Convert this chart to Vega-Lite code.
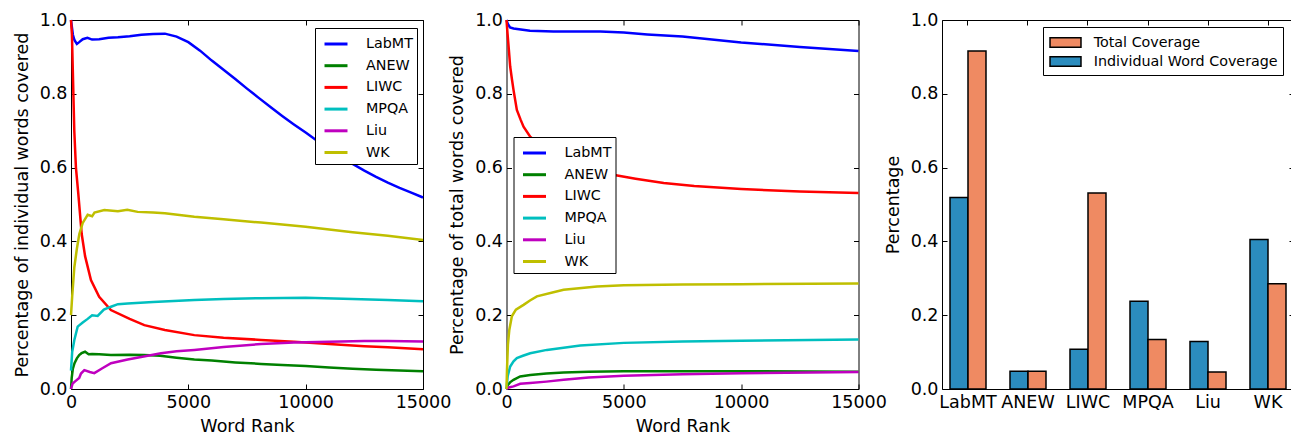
{
  "$schema": "https://vega.github.io/schema/vega-lite/v6.json",
  "padding": {"left": 12, "top": 10, "right": 0, "bottom": 0},
  "bounds": "flush",
  "spacing": 83.5,
  "config": {
    "font": "DejaVu Sans",
    "view": {"stroke": "black", "strokeWidth": 1},
    "axis": {
      "labelFont": "DejaVu Sans", "titleFont": "DejaVu Sans",
      "labelFontSize": 17.5, "titleFontSize": 17.5, "titleFontWeight": "normal",
      "labelColor": "black", "titleColor": "black",
      "grid": false, "domain": false, "tickColor": "black", "tickSize": -5, "tickWidth": 1,
      "labelPadding": 9, "labelFlush": false, "labelOverlap": false
    },
    "legend": {
      "labelFont": "DejaVu Sans", "labelFontSize": 14.3, "labelColor": "black", "labelLimit": 400,
      "strokeColor": "black", "fillColor": "white", "cornerRadius": 0, "strokeWidth": 1
    }
  },
  "resolve": {"scale": {"color": "independent"}, "legend": {"color": "independent"}},
  "datasets": {
    "individual": [
      {"rank": 0, "value": 1.0, "lexicon": "LabMT"}, {"rank": 30, "value": 0.985, "lexicon": "LabMT"}, {"rank": 80, "value": 0.96, "lexicon": "LabMT"}, {"rank": 150, "value": 0.945, "lexicon": "LabMT"}, {"rank": 250, "value": 0.935, "lexicon": "LabMT"}, {"rank": 350, "value": 0.94, "lexicon": "LabMT"}, {"rank": 500, "value": 0.948, "lexicon": "LabMT"}, {"rank": 700, "value": 0.952, "lexicon": "LabMT"}, {"rank": 900, "value": 0.947, "lexicon": "LabMT"}, {"rank": 1200, "value": 0.948, "lexicon": "LabMT"}, {"rank": 1600, "value": 0.952, "lexicon": "LabMT"}, {"rank": 2000, "value": 0.953, "lexicon": "LabMT"}, {"rank": 2500, "value": 0.956, "lexicon": "LabMT"}, {"rank": 3000, "value": 0.96, "lexicon": "LabMT"}, {"rank": 3500, "value": 0.962, "lexicon": "LabMT"}, {"rank": 4000, "value": 0.963, "lexicon": "LabMT"}, {"rank": 4500, "value": 0.955, "lexicon": "LabMT"}, {"rank": 5000, "value": 0.94, "lexicon": "LabMT"}, {"rank": 5500, "value": 0.917, "lexicon": "LabMT"}, {"rank": 6000, "value": 0.89, "lexicon": "LabMT"}, {"rank": 6500, "value": 0.865, "lexicon": "LabMT"}, {"rank": 7000, "value": 0.84, "lexicon": "LabMT"}, {"rank": 7500, "value": 0.814, "lexicon": "LabMT"}, {"rank": 8000, "value": 0.789, "lexicon": "LabMT"}, {"rank": 8500, "value": 0.764, "lexicon": "LabMT"}, {"rank": 9000, "value": 0.74, "lexicon": "LabMT"}, {"rank": 9500, "value": 0.717, "lexicon": "LabMT"}, {"rank": 10000, "value": 0.695, "lexicon": "LabMT"}, {"rank": 10500, "value": 0.672, "lexicon": "LabMT"}, {"rank": 11000, "value": 0.65, "lexicon": "LabMT"}, {"rank": 11500, "value": 0.63, "lexicon": "LabMT"}, {"rank": 12000, "value": 0.61, "lexicon": "LabMT"}, {"rank": 12500, "value": 0.592, "lexicon": "LabMT"}, {"rank": 13000, "value": 0.575, "lexicon": "LabMT"}, {"rank": 13500, "value": 0.559, "lexicon": "LabMT"}, {"rank": 14000, "value": 0.545, "lexicon": "LabMT"}, {"rank": 14500, "value": 0.532, "lexicon": "LabMT"}, {"rank": 15000, "value": 0.519, "lexicon": "LabMT"},
      {"rank": 0, "value": 0.0, "lexicon": "ANEW"}, {"rank": 30, "value": 0.03, "lexicon": "ANEW"}, {"rank": 80, "value": 0.055, "lexicon": "ANEW"}, {"rank": 150, "value": 0.07, "lexicon": "ANEW"}, {"rank": 250, "value": 0.083, "lexicon": "ANEW"}, {"rank": 350, "value": 0.092, "lexicon": "ANEW"}, {"rank": 450, "value": 0.097, "lexicon": "ANEW"}, {"rank": 600, "value": 0.101, "lexicon": "ANEW"}, {"rank": 750, "value": 0.094, "lexicon": "ANEW"}, {"rank": 900, "value": 0.095, "lexicon": "ANEW"}, {"rank": 1200, "value": 0.094, "lexicon": "ANEW"}, {"rank": 1700, "value": 0.092, "lexicon": "ANEW"}, {"rank": 2500, "value": 0.093, "lexicon": "ANEW"}, {"rank": 3100, "value": 0.092, "lexicon": "ANEW"}, {"rank": 3800, "value": 0.09, "lexicon": "ANEW"}, {"rank": 4500, "value": 0.085, "lexicon": "ANEW"}, {"rank": 5255, "value": 0.08, "lexicon": "ANEW"}, {"rank": 6000, "value": 0.077, "lexicon": "ANEW"}, {"rank": 7000, "value": 0.072, "lexicon": "ANEW"}, {"rank": 8100, "value": 0.068, "lexicon": "ANEW"}, {"rank": 9000, "value": 0.065, "lexicon": "ANEW"}, {"rank": 10000, "value": 0.062, "lexicon": "ANEW"}, {"rank": 11000, "value": 0.058, "lexicon": "ANEW"}, {"rank": 12000, "value": 0.055, "lexicon": "ANEW"}, {"rank": 13000, "value": 0.052, "lexicon": "ANEW"}, {"rank": 14000, "value": 0.05, "lexicon": "ANEW"}, {"rank": 15000, "value": 0.048, "lexicon": "ANEW"},
      {"rank": 0, "value": 1.0, "lexicon": "LIWC"}, {"rank": 40, "value": 0.96, "lexicon": "LIWC"}, {"rank": 90, "value": 0.83, "lexicon": "LIWC"}, {"rank": 140, "value": 0.7, "lexicon": "LIWC"}, {"rank": 210, "value": 0.6, "lexicon": "LIWC"}, {"rank": 310, "value": 0.53, "lexicon": "LIWC"}, {"rank": 456, "value": 0.42, "lexicon": "LIWC"}, {"rank": 600, "value": 0.36, "lexicon": "LIWC"}, {"rank": 850, "value": 0.295, "lexicon": "LIWC"}, {"rank": 1200, "value": 0.25, "lexicon": "LIWC"}, {"rank": 1700, "value": 0.214, "lexicon": "LIWC"}, {"rank": 2500, "value": 0.19, "lexicon": "LIWC"}, {"rank": 3125, "value": 0.173, "lexicon": "LIWC"}, {"rank": 4000, "value": 0.16, "lexicon": "LIWC"}, {"rank": 5255, "value": 0.146, "lexicon": "LIWC"}, {"rank": 6500, "value": 0.139, "lexicon": "LIWC"}, {"rank": 8100, "value": 0.133, "lexicon": "LIWC"}, {"rank": 9500, "value": 0.128, "lexicon": "LIWC"}, {"rank": 11000, "value": 0.122, "lexicon": "LIWC"}, {"rank": 12500, "value": 0.116, "lexicon": "LIWC"}, {"rank": 13500, "value": 0.113, "lexicon": "LIWC"}, {"rank": 15000, "value": 0.108, "lexicon": "LIWC"},
      {"rank": 0, "value": 0.05, "lexicon": "MPQA"}, {"rank": 50, "value": 0.1, "lexicon": "MPQA"}, {"rank": 142, "value": 0.133, "lexicon": "MPQA"}, {"rank": 284, "value": 0.169, "lexicon": "MPQA"}, {"rank": 500, "value": 0.18, "lexicon": "MPQA"}, {"rank": 710, "value": 0.19, "lexicon": "MPQA"}, {"rank": 900, "value": 0.2, "lexicon": "MPQA"}, {"rank": 1136, "value": 0.198, "lexicon": "MPQA"}, {"rank": 1400, "value": 0.215, "lexicon": "MPQA"}, {"rank": 1705, "value": 0.223, "lexicon": "MPQA"}, {"rank": 2000, "value": 0.23, "lexicon": "MPQA"}, {"rank": 2415, "value": 0.232, "lexicon": "MPQA"}, {"rank": 3500, "value": 0.236, "lexicon": "MPQA"}, {"rank": 5255, "value": 0.241, "lexicon": "MPQA"}, {"rank": 6500, "value": 0.244, "lexicon": "MPQA"}, {"rank": 8100, "value": 0.246, "lexicon": "MPQA"}, {"rank": 10000, "value": 0.247, "lexicon": "MPQA"}, {"rank": 12000, "value": 0.244, "lexicon": "MPQA"}, {"rank": 13500, "value": 0.241, "lexicon": "MPQA"}, {"rank": 15000, "value": 0.238, "lexicon": "MPQA"},
      {"rank": 0, "value": 0.0, "lexicon": "Liu"}, {"rank": 71, "value": 0.015, "lexicon": "Liu"}, {"rank": 200, "value": 0.022, "lexicon": "Liu"}, {"rank": 350, "value": 0.03, "lexicon": "Liu"}, {"rank": 426, "value": 0.042, "lexicon": "Liu"}, {"rank": 568, "value": 0.051, "lexicon": "Liu"}, {"rank": 800, "value": 0.046, "lexicon": "Liu"}, {"rank": 994, "value": 0.043, "lexicon": "Liu"}, {"rank": 1300, "value": 0.055, "lexicon": "Liu"}, {"rank": 1705, "value": 0.07, "lexicon": "Liu"}, {"rank": 2415, "value": 0.08, "lexicon": "Liu"}, {"rank": 3100, "value": 0.088, "lexicon": "Liu"}, {"rank": 3835, "value": 0.097, "lexicon": "Liu"}, {"rank": 4500, "value": 0.102, "lexicon": "Liu"}, {"rank": 5255, "value": 0.106, "lexicon": "Liu"}, {"rank": 6500, "value": 0.114, "lexicon": "Liu"}, {"rank": 8100, "value": 0.122, "lexicon": "Liu"}, {"rank": 9500, "value": 0.126, "lexicon": "Liu"}, {"rank": 11000, "value": 0.128, "lexicon": "Liu"}, {"rank": 12500, "value": 0.13, "lexicon": "Liu"}, {"rank": 13500, "value": 0.13, "lexicon": "Liu"}, {"rank": 15000, "value": 0.129, "lexicon": "Liu"},
      {"rank": 0, "value": 0.2, "lexicon": "WK"}, {"rank": 50, "value": 0.25, "lexicon": "WK"}, {"rank": 142, "value": 0.33, "lexicon": "WK"}, {"rank": 250, "value": 0.38, "lexicon": "WK"}, {"rank": 355, "value": 0.42, "lexicon": "WK"}, {"rank": 500, "value": 0.45, "lexicon": "WK"}, {"rank": 710, "value": 0.472, "lexicon": "WK"}, {"rank": 900, "value": 0.468, "lexicon": "WK"}, {"rank": 1000, "value": 0.478, "lexicon": "WK"}, {"rank": 1420, "value": 0.485, "lexicon": "WK"}, {"rank": 2000, "value": 0.482, "lexicon": "WK"}, {"rank": 2400, "value": 0.486, "lexicon": "WK"}, {"rank": 2840, "value": 0.48, "lexicon": "WK"}, {"rank": 3500, "value": 0.478, "lexicon": "WK"}, {"rank": 4000, "value": 0.476, "lexicon": "WK"}, {"rank": 5255, "value": 0.467, "lexicon": "WK"}, {"rank": 6500, "value": 0.46, "lexicon": "WK"}, {"rank": 8100, "value": 0.451, "lexicon": "WK"}, {"rank": 9000, "value": 0.446, "lexicon": "WK"}, {"rank": 10000, "value": 0.44, "lexicon": "WK"}, {"rank": 11000, "value": 0.432, "lexicon": "WK"}, {"rank": 12000, "value": 0.425, "lexicon": "WK"}, {"rank": 13500, "value": 0.415, "lexicon": "WK"}, {"rank": 15000, "value": 0.404, "lexicon": "WK"}
    ],
    "total": [
      {"rank": 0, "value": 1.0, "lexicon": "LabMT"}, {"rank": 50, "value": 0.99, "lexicon": "LabMT"}, {"rank": 150, "value": 0.98, "lexicon": "LabMT"}, {"rank": 300, "value": 0.977, "lexicon": "LabMT"}, {"rank": 1000, "value": 0.971, "lexicon": "LabMT"}, {"rank": 2000, "value": 0.969, "lexicon": "LabMT"}, {"rank": 4000, "value": 0.969, "lexicon": "LabMT"}, {"rank": 5000, "value": 0.966, "lexicon": "LabMT"}, {"rank": 6000, "value": 0.961, "lexicon": "LabMT"}, {"rank": 7500, "value": 0.955, "lexicon": "LabMT"}, {"rank": 8750, "value": 0.947, "lexicon": "LabMT"}, {"rank": 10000, "value": 0.939, "lexicon": "LabMT"}, {"rank": 12500, "value": 0.927, "lexicon": "LabMT"}, {"rank": 15000, "value": 0.916, "lexicon": "LabMT"},
      {"rank": 0, "value": 0.0, "lexicon": "ANEW"}, {"rank": 50, "value": 0.01, "lexicon": "ANEW"}, {"rank": 150, "value": 0.018, "lexicon": "ANEW"}, {"rank": 300, "value": 0.025, "lexicon": "ANEW"}, {"rank": 583, "value": 0.034, "lexicon": "ANEW"}, {"rank": 1010, "value": 0.038, "lexicon": "ANEW"}, {"rank": 1700, "value": 0.042, "lexicon": "ANEW"}, {"rank": 2434, "value": 0.045, "lexicon": "ANEW"}, {"rank": 3500, "value": 0.047, "lexicon": "ANEW"}, {"rank": 5000, "value": 0.048, "lexicon": "ANEW"}, {"rank": 10000, "value": 0.048, "lexicon": "ANEW"}, {"rank": 15000, "value": 0.047, "lexicon": "ANEW"},
      {"rank": 0, "value": 1.0, "lexicon": "LIWC"}, {"rank": 43, "value": 0.964, "lexicon": "LIWC"}, {"rank": 100, "value": 0.92, "lexicon": "LIWC"}, {"rank": 157, "value": 0.874, "lexicon": "LIWC"}, {"rank": 230, "value": 0.84, "lexicon": "LIWC"}, {"rank": 300, "value": 0.81, "lexicon": "LIWC"}, {"rank": 441, "value": 0.756, "lexicon": "LIWC"}, {"rank": 600, "value": 0.73, "lexicon": "LIWC"}, {"rank": 726, "value": 0.711, "lexicon": "LIWC"}, {"rank": 1010, "value": 0.684, "lexicon": "LIWC"}, {"rank": 1500, "value": 0.655, "lexicon": "LIWC"}, {"rank": 2000, "value": 0.635, "lexicon": "LIWC"}, {"rank": 3000, "value": 0.607, "lexicon": "LIWC"}, {"rank": 4000, "value": 0.59, "lexicon": "LIWC"}, {"rank": 4600, "value": 0.58, "lexicon": "LIWC"}, {"rank": 5500, "value": 0.57, "lexicon": "LIWC"}, {"rank": 6700, "value": 0.558, "lexicon": "LIWC"}, {"rank": 8000, "value": 0.55, "lexicon": "LIWC"}, {"rank": 10000, "value": 0.542, "lexicon": "LIWC"}, {"rank": 12500, "value": 0.535, "lexicon": "LIWC"}, {"rank": 15000, "value": 0.531, "lexicon": "LIWC"},
      {"rank": 0, "value": 0.0, "lexicon": "MPQA"}, {"rank": 50, "value": 0.035, "lexicon": "MPQA"}, {"rank": 157, "value": 0.061, "lexicon": "MPQA"}, {"rank": 300, "value": 0.075, "lexicon": "MPQA"}, {"rank": 441, "value": 0.084, "lexicon": "MPQA"}, {"rank": 700, "value": 0.09, "lexicon": "MPQA"}, {"rank": 1010, "value": 0.097, "lexicon": "MPQA"}, {"rank": 1722, "value": 0.106, "lexicon": "MPQA"}, {"rank": 3145, "value": 0.118, "lexicon": "MPQA"}, {"rank": 5000, "value": 0.125, "lexicon": "MPQA"}, {"rank": 7500, "value": 0.129, "lexicon": "MPQA"}, {"rank": 10000, "value": 0.131, "lexicon": "MPQA"}, {"rank": 15000, "value": 0.134, "lexicon": "MPQA"},
      {"rank": 0, "value": 0.0, "lexicon": "Liu"}, {"rank": 100, "value": 0.004, "lexicon": "Liu"}, {"rank": 300, "value": 0.007, "lexicon": "Liu"}, {"rank": 583, "value": 0.014, "lexicon": "Liu"}, {"rank": 1010, "value": 0.016, "lexicon": "Liu"}, {"rank": 1700, "value": 0.02, "lexicon": "Liu"}, {"rank": 2434, "value": 0.025, "lexicon": "Liu"}, {"rank": 3500, "value": 0.031, "lexicon": "Liu"}, {"rank": 5000, "value": 0.036, "lexicon": "Liu"}, {"rank": 7500, "value": 0.04, "lexicon": "Liu"}, {"rank": 10000, "value": 0.043, "lexicon": "Liu"}, {"rank": 15000, "value": 0.046, "lexicon": "Liu"},
      {"rank": 0, "value": 0.0, "lexicon": "WK"}, {"rank": 20, "value": 0.05, "lexicon": "WK"}, {"rank": 60, "value": 0.12, "lexicon": "WK"}, {"rank": 120, "value": 0.16, "lexicon": "WK"}, {"rank": 228, "value": 0.197, "lexicon": "WK"}, {"rank": 400, "value": 0.215, "lexicon": "WK"}, {"rank": 726, "value": 0.228, "lexicon": "WK"}, {"rank": 1000, "value": 0.24, "lexicon": "WK"}, {"rank": 1295, "value": 0.251, "lexicon": "WK"}, {"rank": 2000, "value": 0.262, "lexicon": "WK"}, {"rank": 2434, "value": 0.269, "lexicon": "WK"}, {"rank": 3858, "value": 0.278, "lexicon": "WK"}, {"rank": 5000, "value": 0.281, "lexicon": "WK"}, {"rank": 7500, "value": 0.283, "lexicon": "WK"}, {"rank": 10000, "value": 0.284, "lexicon": "WK"}, {"rank": 15000, "value": 0.286, "lexicon": "WK"}
    ],
    "bars": [
      {"lexicon": "LabMT", "series": "Individual Word Coverage", "value": 0.519}, {"lexicon": "LabMT", "series": "Total Coverage", "value": 0.916},
      {"lexicon": "ANEW", "series": "Individual Word Coverage", "value": 0.048}, {"lexicon": "ANEW", "series": "Total Coverage", "value": 0.048},
      {"lexicon": "LIWC", "series": "Individual Word Coverage", "value": 0.108}, {"lexicon": "LIWC", "series": "Total Coverage", "value": 0.531},
      {"lexicon": "MPQA", "series": "Individual Word Coverage", "value": 0.238}, {"lexicon": "MPQA", "series": "Total Coverage", "value": 0.134},
      {"lexicon": "Liu", "series": "Individual Word Coverage", "value": 0.129}, {"lexicon": "Liu", "series": "Total Coverage", "value": 0.046},
      {"lexicon": "WK", "series": "Individual Word Coverage", "value": 0.405}, {"lexicon": "WK", "series": "Total Coverage", "value": 0.285}
    ]
  },
  "hconcat": [
    {
      "width": 352, "height": 369,
      "data": {"name": "individual"},
      "layer": [
        {
          "mark": {"type": "line", "strokeWidth": 2.5},
          "encoding": {
            "x": {"field": "rank", "type": "quantitative", "scale": {"domain": [0, 15000], "nice": false}, "axis": {"values": [0, 5000, 10000, 15000], "format": "d", "title": "Word Rank", "titlePadding": 7}},
            "y": {"field": "value", "type": "quantitative", "scale": {"domain": [0, 1], "nice": false}, "axis": {"values": [0, 0.2, 0.4, 0.6, 0.8, 1.0], "format": ".1f", "title": "Percentage of individual words covered", "titlePadding": 8}},
            "color": {"field": "lexicon", "type": "nominal", "scale": {"domain": ["LabMT", "ANEW", "LIWC", "MPQA", "Liu", "WK"], "range": ["#0000ff", "#008000", "#ff0000", "#00bfbf", "#bf00bf", "#bfbf00"]},
              "legend": {"title": null, "orient": "none", "legendX": 244, "legendY": 8, "symbolType": "M-1.095,0H1.095", "symbolSize": 441, "symbolStrokeWidth": 3, "symbolOffset": 5, "labelOffset": 18, "rowPadding": 1.7, "padding": 4}}
          }
        },
        {
          "mark": {"type": "line", "opacity": 0},
          "encoding": {
            "x": {"field": "rank", "type": "quantitative", "axis": {"orient": "top", "values": [0, 5000, 10000, 15000], "labels": false, "title": null}},
            "y": {"field": "value", "type": "quantitative", "axis": {"orient": "right", "values": [0, 0.2, 0.4, 0.6, 0.8, 1.0], "labels": false, "title": null}}
          }
        }
      ],
      "resolve": {"axis": {"x": "independent", "y": "independent"}}
    },
    {
      "width": 352, "height": 369,
      "data": {"name": "total"},
      "layer": [
        {
          "mark": {"type": "line", "strokeWidth": 2.5},
          "encoding": {
            "x": {"field": "rank", "type": "quantitative", "scale": {"domain": [0, 15000], "nice": false}, "axis": {"values": [0, 5000, 10000, 15000], "format": "d", "title": "Word Rank", "titlePadding": 7}},
            "y": {"field": "value", "type": "quantitative", "scale": {"domain": [0, 1], "nice": false}, "axis": {"values": [0, 0.2, 0.4, 0.6, 0.8, 1.0], "format": ".1f", "title": "Percentage of total words covered", "titlePadding": 8}},
            "color": {"field": "lexicon", "type": "nominal", "scale": {"domain": ["LabMT", "ANEW", "LIWC", "MPQA", "Liu", "WK"], "range": ["#0000ff", "#008000", "#ff0000", "#00bfbf", "#bf00bf", "#bfbf00"]},
              "legend": {"title": null, "orient": "none", "legendX": 7, "legendY": 117, "symbolType": "M-1.095,0H1.095", "symbolSize": 441, "symbolStrokeWidth": 3, "symbolOffset": 5, "labelOffset": 18, "rowPadding": 1.7, "padding": 4}}
          }
        },
        {
          "mark": {"type": "line", "opacity": 0},
          "encoding": {
            "x": {"field": "rank", "type": "quantitative", "axis": {"orient": "top", "values": [0, 5000, 10000, 15000], "labels": false, "title": null}},
            "y": {"field": "value", "type": "quantitative", "axis": {"orient": "right", "values": [0, 0.2, 0.4, 0.6, 0.8, 1.0], "labels": false, "title": null}}
          }
        }
      ],
      "resolve": {"axis": {"x": "independent", "y": "independent"}}
    },
    {
      "width": 352, "height": 369,
      "data": {"name": "bars"},
      "layer": [
        {
          "mark": {"type": "bar", "stroke": "black", "strokeWidth": 1.5},
          "encoding": {
            "x": {"field": "lexicon", "type": "nominal", "sort": ["LabMT", "ANEW", "LIWC", "MPQA", "Liu", "WK"], "scale": {"paddingInner": 0.4, "paddingOuter": 0.1333}, "axis": {"title": null, "labelAngle": 0}},
            "xOffset": {"field": "series", "type": "nominal", "sort": ["Individual Word Coverage", "Total Coverage"], "scale": {"paddingInner": 0, "paddingOuter": 0}},
            "y": {"field": "value", "type": "quantitative", "stack": null, "scale": {"domain": [0, 1], "nice": false}, "axis": {"values": [0, 0.2, 0.4, 0.6, 0.8, 1.0], "format": ".1f", "title": "Percentage", "titlePadding": 8}},
            "color": {"field": "series", "type": "nominal", "scale": {"domain": ["Total Coverage", "Individual Word Coverage"], "range": ["#ef8a62", "#2b8cbe"]},
              "legend": {"title": null, "orient": "none", "legendX": 101, "legendY": 7, "symbolType": "M-1.606,-0.482H1.606V0.482H-1.606Z", "symbolSize": 372, "symbolStrokeColor": "black", "symbolStrokeWidth": 1.5, "symbolOpacity": 1, "symbolOffset": 7, "labelOffset": 17.7, "rowPadding": 0, "padding": 5}}
          }
        },
        {
          "mark": {"type": "bar", "opacity": 0},
          "encoding": {
            "x": {"field": "lexicon", "type": "nominal", "sort": ["LabMT", "ANEW", "LIWC", "MPQA", "Liu", "WK"], "axis": {"orient": "top", "labels": false, "title": null}},
            "y": {"field": "value", "type": "quantitative", "stack": null, "axis": {"orient": "right", "values": [0, 0.2, 0.4, 0.6, 0.8, 1.0], "labels": false, "title": null}}
          }
        }
      ],
      "resolve": {"axis": {"x": "independent", "y": "independent"}}
    }
  ]
}
